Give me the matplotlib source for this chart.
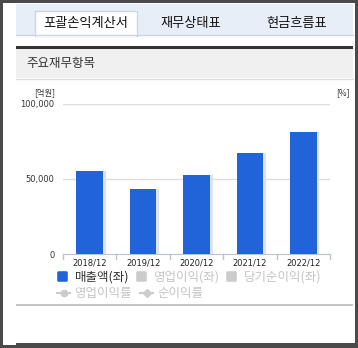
import matplotlib
matplotlib.use("Agg")
import matplotlib.pyplot as plt
from matplotlib.patches import Rectangle, FancyBboxPatch
from matplotlib.lines import Line2D

plt.rcParams['font.family'] = ['Noto Sans CJK KR', 'DejaVu Sans']

W, H = 358, 348

# data
periods = ["2018/12", "2019/12", "2020/12", "2021/12", "2022/12"]
sales = [55300, 42900, 52400, 67200, 81200]
yticks = [0, 50000, 100000]
ytick_labels = ["0", "50,000", "100,000"]
tabs = ["포괄손익계산서", "재무상태표", "현금흐름표"]
legend_bars = ["매출액(좌)", "영업이익(좌)", "당기순이익(좌)"]
legend_lines = ["영업이익률", "순이익률"]

BLUE = "#2164d9"
DARK = "#4a4a4a"
TXT = "#333333"
OFF = "#c4c4c4"

fig = plt.figure(figsize=(W / 100, H / 100), dpi=100)
fig.patch.set_facecolor("white")

# page decorations in pixel coordinates
bg = fig.add_axes([0, 0, 1, 1])
bg.set_xlim(0, W); bg.set_ylim(H, 0); bg.axis("off")


def rect(x0, y0, x1, y1, color, **kw):
    bg.add_patch(Rectangle((x0, y0), x1 - x0, y1 - y0, facecolor=color, edgecolor="none", **kw))


# outer frame
rect(0, 0, 2.5, H, DARK)
rect(0, 0, W, 2.5, DARK)
rect(355, 0, W, H, DARK)
rect(16, 343, W, H, DARK)
rect(0, 345, 16, H, DARK)

# tab strip
rect(16, 4, 353, 35, "#e8eef8")
bg.plot([16, 353], [35, 35], color="#cdd5e2", lw=1)
bg.add_patch(Rectangle((35, 11), 102, 24.5, facecolor="white", edgecolor="#cdd5e2", lw=1))
rect(35.6, 34, 136.4, 36.5, "white")
for label, cx in zip(tabs, [86, 191, 297]):
    bg.text(cx, 23, label, ha="center", va="center", fontsize=9.5, color="#111111")

# section header
rect(16, 46, 353, 48.5, "#333333")
rect(16, 48.5, 353, 78, "#f0f0f0")
bg.plot([16, 353], [78.5, 78.5], color="#dcdcdc", lw=1)
bg.text(26, 64, "주요재무항목", ha="left", va="center", fontsize=9, color=TXT)

# bottom separator
rect(16, 304, 353, 306, "#c8c8c8")

# unit labels
bg.text(45, 93, "[억원]", ha="center", va="center", fontsize=6, color=TXT)
bg.text(343, 93, "[%]", ha="center", va="center", fontsize=6, color=TXT)

# chart
ax = fig.add_axes([63 / W, (H - 254) / H, (330 - 63) / W, (254 - 103.5) / H])
x = list(range(len(periods)))
ax.bar([i + 0.04 for i in x], sales, width=0.52, color="#dde3ee", zorder=2)
ax.bar(x, sales, width=0.5, color=BLUE, zorder=3)
ax.set_xlim(-0.5, len(periods) - 0.5)
ax.set_ylim(0, 100000)
ax.set_yticks(yticks)
ax.set_yticklabels(ytick_labels, fontsize=6, color=TXT, family="DejaVu Sans")
ax.tick_params(axis="y", length=0, pad=6)
for v in yticks[1:]:
    ax.axhline(v, color="#dddddd", lw=1, zorder=1)
ax.set_xticks(x)
ax.set_xticklabels(periods, fontsize=6, color="#222222", family="DejaVu Sans")
ax.tick_params(axis="x", length=0, pad=3)
for b in [i - 0.5 for i in range(len(periods) + 1)]:
    ax.plot([b, b], [0, -3000], color="#b8c4d4", lw=1, clip_on=False)
for s in ["top", "right", "left"]:
    ax.spines[s].set_visible(False)
ax.spines["bottom"].set_color("#b8c4d4")
ax.patch.set_alpha(0)

# legend, drawn by hand
sq = [(57, BLUE, TXT), (136, "#cccccc", OFF), (226, "#cccccc", OFF)]
for (sx, fc, tc), label in zip(sq, legend_bars):
    bg.add_patch(FancyBboxPatch((sx + 1, 272), 9, 9, boxstyle="round,pad=0.8,rounding_size=1.5",
                                facecolor=fc, edgecolor="none"))
    bg.text(sx + 17.5, 277, label, ha="left", va="center", fontsize=9, color=tc)

for lx, mk, label in [(57, "o", legend_lines[0]), (140, "D", legend_lines[1])]:
    bg.add_line(Line2D([lx, lx + 13], [293, 293], color="#cccccc", lw=1.5))
    bg.add_line(Line2D([lx + 6.5], [293], marker=mk, markersize=4.5, color="#cccccc"))
    bg.text(lx + 17.5, 293, label, ha="left", va="center", fontsize=9, color=OFF)

fig.savefig("out.png", dpi=100, facecolor="white")
